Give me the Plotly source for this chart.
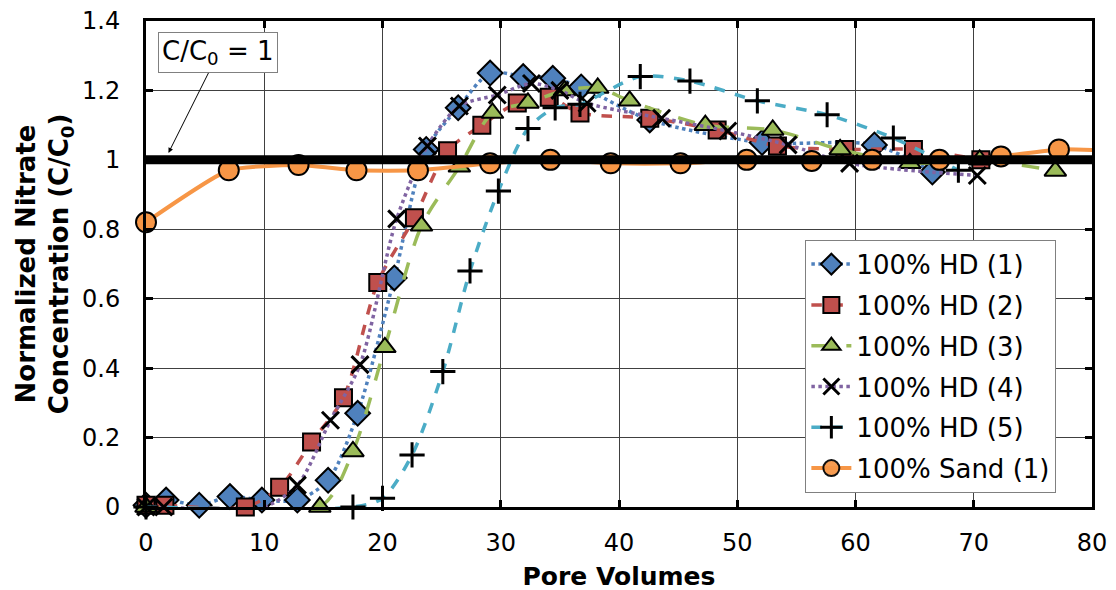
import plotly.graph_objects as go

# ---- data ----
hd1_x = [0, 1.7, 4.5, 7.1, 9.8, 12.8, 15.4, 17.9, 21.0, 23.7, 26.4, 29.1, 31.9, 34.4, 36.8, 42.6, 52.1, 61.6, 66.5]
hd1_y = [0.005, 0.02, 0.005, 0.03, 0.02, 0.02, 0.077, 0.27, 0.66, 1.03, 1.15, 1.25, 1.24, 1.235, 1.21, 1.115, 1.05, 1.043, 0.965]

hd2_x = [0, 1.6, 8.4, 11.3, 14.0, 16.7, 19.6, 22.7, 25.5, 28.4, 31.4, 34.1, 36.7, 42.6, 48.3, 53.4, 59.1, 64.9, 70.6]
hd2_y = [0.005, 0.005, 0.0, 0.057, 0.187, 0.315, 0.647, 0.833, 1.026, 1.10, 1.164, 1.18, 1.135, 1.12, 1.086, 1.04, 1.03, 1.03, 1.0]

hd3_x = [0, 14.7, 17.5, 20.2, 23.3, 26.5, 29.3, 32.3, 35.4, 38.2, 40.9, 47.3, 53.0, 58.7, 64.6, 70.5, 76.9]
hd3_y = [0.0, 0.0, 0.16, 0.46, 0.81, 0.98, 1.135, 1.164, 1.20, 1.207, 1.17, 1.10, 1.086, 1.03, 0.99, 1.0, 0.968]

hd4_x = [0, 1.5, 9.6, 12.8, 15.6, 18.1, 21.2, 23.8, 26.5, 29.7, 32.6, 35.0, 37.3, 43.6, 49.2, 54.3, 59.5, 70.3]
hd4_y = [0.0, 0.0, -0.005, 0.063, 0.25, 0.41, 0.83, 1.04, 1.155, 1.187, 1.22, 1.2, 1.163, 1.12, 1.083, 1.043, 0.99, 0.955]

hd5_x = [0, 17.5, 20.0, 22.5, 25.1, 27.4, 29.8, 32.3, 34.6, 36.7, 41.8, 46.0, 51.7, 57.6, 63.2, 68.7]
hd5_y = [0.0, 0.0, 0.025, 0.15, 0.39, 0.68, 0.91, 1.09, 1.15, 1.16, 1.24, 1.227, 1.17, 1.13, 1.063, 0.97]

sand_x = [0, 7.0, 12.9, 17.8, 23.0, 29.1, 34.2, 39.3, 45.2, 50.8, 56.3, 61.4, 67.1, 72.3, 77.2, 83.0]
sand_y = [0.82, 0.97, 0.985, 0.97, 0.97, 0.99, 1.0, 0.99, 0.99, 1.0, 0.997, 1.0, 1.0, 1.01, 1.03, 1.025]

series_names = ["100% HD (1)", "100% HD (2)", "100% HD (3)", "100% HD (4)", "100% HD (5)", "100% Sand (1)"]
x_ticks = [0, 10, 20, 30, 40, 50, 60, 70, 80]
y_ticks = [0, 0.2, 0.4, 0.6, 0.8, 1.0, 1.2, 1.4]

FONT = "DejaVu Sans"

fig = go.Figure()

def add(x, y, name, color, dash, symbol, size, mcolor, mline_w, lw=3.5, opac=None, smooth=0.8):
    marker = dict(symbol=symbol, size=size, color=mcolor,
                  line=dict(color="black", width=mline_w))
    if opac is not None:
        marker["opacity"] = opac
    fig.add_trace(go.Scatter(
        x=x, y=y, name=name, legendgroup=name, mode="lines+markers",
        line=dict(color=color, width=lw, dash=dash, shape="spline", smoothing=smooth),
        marker=marker, cliponaxis=False))

add(hd1_x, hd1_y, series_names[0], "#4F81BD", "dot", "diamond", 19, "#4F81BD", 2)
add(hd2_x, hd2_y, series_names[1], "#C0504D", "dash", "square", 17, "#C0504D", 2)
add(hd3_x, hd3_y, series_names[2], "#9BBB59", "longdash", "triangle-up", 19, "#9BBB59", 2)
add(hd4_x, hd4_y, series_names[3], "#8064A2", "dot", "x-thin", 17, "black", 3)
add(hd5_x, hd5_y, series_names[4], "#4BACC6", "dash", "cross-thin", 18, "black", 3)
add(sand_x, sand_y, series_names[5], "#F79646", "solid", "circle", 20, "#F79646", 2,
    lw=4, opac=[1] * (len(sand_x) - 1) + [0], smooth=0.5)

# C/C0 = 1 reference line
fig.add_hline(y=1, line=dict(color="black", width=9), layer="above")

fig.add_annotation(
    x=1.9, y=1.02, xref="x", yref="y",
    ax=50, ay=-100, axref="pixel", ayref="pixel",
    text="C/C<sub>0</sub> = 1", showarrow=True,
    arrowhead=2, arrowsize=1, arrowwidth=1, arrowcolor="black",
    font=dict(family=FONT, size=26, color="black"),
    bgcolor="white", bordercolor="#808080", borderwidth=1, borderpad=3)

axis_common = dict(
    showline=True, linecolor="black", linewidth=3, mirror="ticks",
    ticks="inside", ticklen=7, tickwidth=3, tickcolor="black",
    showgrid=True, gridcolor="#404040", gridwidth=1,
    zeroline=False, ticklabeloverflow="allow",
    tickfont=dict(family=FONT, size=24, color="black"),
)

fig.update_xaxes(range=[0, 80], tickvals=x_ticks, ticklabelstandoff=12,
                 title=dict(text="<b>Pore Volumes</b>", font=dict(family=FONT, size=25, color="black"),
                            standoff=12),
                 **axis_common)
fig.update_yaxes(range=[0, 1.4], tickvals=y_ticks, ticklabelstandoff=18,
                 title=dict(text="<b>Normalized Nitrate<br>Concentration (C/C<sub>0</sub>)</b>",
                            font=dict(family=FONT, size=26, color="black"), standoff=6),
                 **axis_common)

# page body adds an 8px offset; margins compensate so the plot area lands as in the reference
fig.update_layout(
    width=1116, height=590,
    margin=dict(l=138, r=32, t=13, b=91, autoexpand=False),
    plot_bgcolor="white", paper_bgcolor="white",
    font=dict(family=FONT, color="black"),
    legend=dict(x=0.697, y=0.55, xanchor="left", yanchor="top",
                bgcolor="white", bordercolor="#808080", borderwidth=1,
                font=dict(family=FONT, size=26, color="black"),
                itemwidth=40, tracegroupgap=4),
)

fig.write_html("out.html")
